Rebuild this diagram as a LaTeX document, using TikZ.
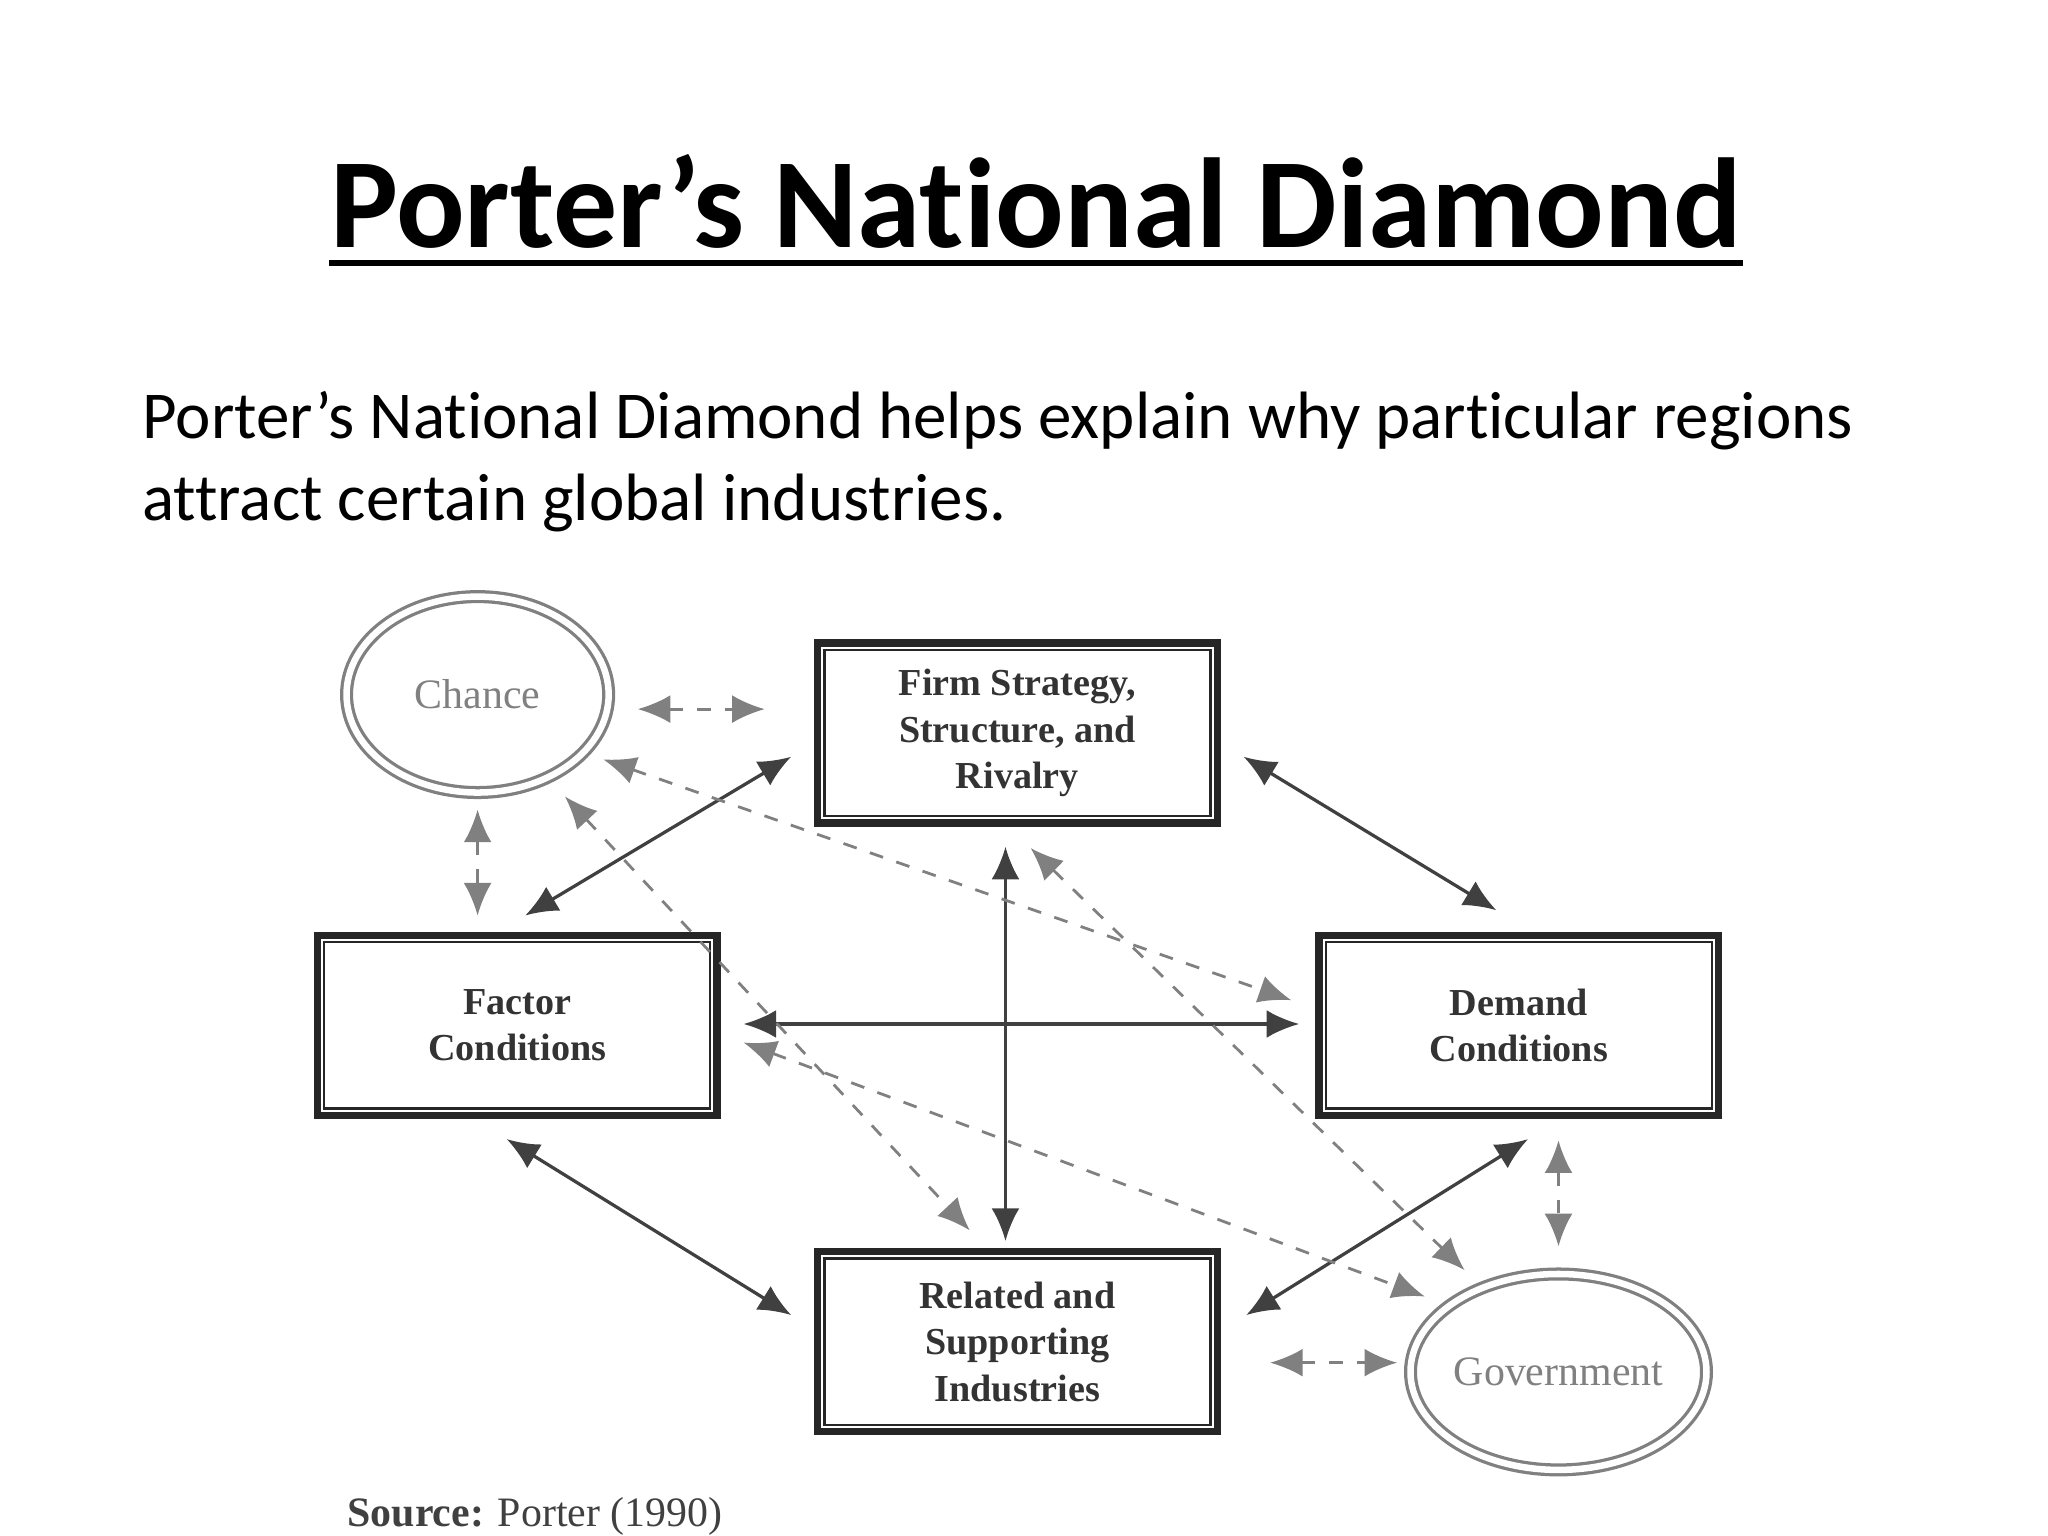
\documentclass[tikz,border=0pt]{standalone}
\usepackage{fontspec}
\setmainfont[Ligatures=NoCommon]{Carlito}
\newfontfamily\serifb{Liberation Serif}
\usetikzlibrary{shapes.geometric,arrows.meta}
\begin{document}
\begin{tikzpicture}[x=0.01cm,y=-0.01cm,
  fbox/.style={draw=black!85,line width=1.6pt,minimum width=3.02cm,minimum height=1.36cm,align=center,font=\serifb\fontsize{8.2}{10}\selectfont\bfseries,text=black!80},
  oval/.style={ellipse,draw=gray,line width=0.7pt,double,double distance=1.4pt,inner sep=0pt,minimum width=1.98cm,minimum height=1.48cm,font=\serifb\fontsize{9}{10}\selectfont,text=gray},
  sol/.style={{Latex[length=7pt,width=6pt]}-{Latex[length=7pt,width=6pt]},black!75,line width=0.7pt},
  dsh/.style={{Latex[length=7pt,width=6pt]}-{Latex[length=7pt,width=6pt]},gray,dashed,line width=0.6pt}]
\useasboundingbox (0,0) rectangle (1548,1161);
\node[font=\fontsize{27.5}{30}\selectfont\bfseries,inner sep=0pt] (title) at (783,152) {Porter’s National Diamond};
\draw[line width=1.3pt] ([yshift=-3pt]title.south west) -- ([yshift=-3pt]title.south east);
\node[anchor=north west,align=left,inner sep=0pt,font=\fontsize{14.4}{17.6}\selectfont] (intro) at (107,295) {Porter’s National Diamond helps explain why particular regions\\attract certain global industries.};
\node[oval] (chance) at (361,525) {Chance};
\node[oval] (gov) at (1178,1037) {Government};
\node[fbox] (firm) at (769,554) {Firm Strategy,\\Structure, and\\Rivalry};
\node[fbox] (factor) at (391,775) {Factor\\Conditions};
\node[fbox] (demand) at (1148,775) {Demand\\Conditions};
\node[fbox] (rel) at (769,1014) {Related and\\Supporting\\Industries};
\foreach \n in {firm,factor,demand,rel}
  \draw[black!85,line width=0.5pt] ([shift={(8,-8)}]\n.south west) rectangle ([shift={(-8,8)}]\n.north east);
\coordinate (a1) at (598,572); \coordinate (a2) at (397,692);
\coordinate (b1) at (940,572); \coordinate (b2) at (1131,688);
\coordinate (c1) at (760,640); \coordinate (c2) at (760,938);
\coordinate (d1) at (562,774); \coordinate (d2) at (982,774);
\coordinate (e1) at (383,861); \coordinate (e2) at (598,994);
\coordinate (f1) at (1155,861); \coordinate (f2) at (942,994);
\foreach \p in {a,b,c,d,e,f} \draw[sol] (\p1) -- (\p2);
\coordinate (g1) at (482,536); \coordinate (g2) at (578,536);
\coordinate (h1) at (361,612); \coordinate (h2) at (361,692);
\coordinate (i1) at (456,574); \coordinate (i2) at (976,756);
\coordinate (j1) at (427,602); \coordinate (j2) at (733,930);
\coordinate (k1) at (779,641); \coordinate (k2) at (1107,960);
\coordinate (l1) at (562,788); \coordinate (l2) at (1077,980);
\coordinate (m1) at (1178,862); \coordinate (m2) at (1178,942);
\coordinate (n1) at (960,1030); \coordinate (n2) at (1056,1030);
\foreach \p in {g,h,i,j,k,l,m,n} \draw[dsh] (\p1) -- (\p2);
\node[anchor=west,inner sep=0pt,font=\serifb\fontsize{9}{11}\selectfont,text=black!75] (src) at (262,1146) {\textbf{Source:} Porter (1990)};
\end{tikzpicture}
\end{document}
